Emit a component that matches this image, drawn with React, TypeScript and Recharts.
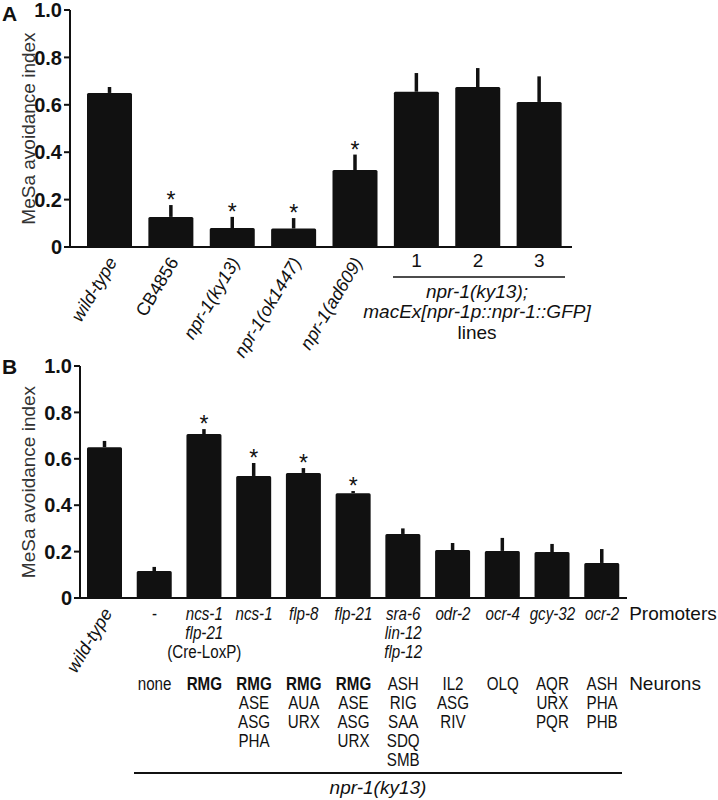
import { BarChart, Bar, XAxis, YAxis, ErrorBar, Rectangle } from 'recharts';

const FONT = '"Liberation Sans", Arial, Helvetica, sans-serif';
const INK = '#111';

// panel A: strains
const strainsA = ['wild-type', 'CB4856', 'npr-1(ky13)', 'npr-1(ok1447)', 'npr-1(ad609)', '1', '2', '3'];
const meanA = [0.65, 0.127, 0.08, 0.078, 0.325, 0.655, 0.675, 0.612];
const semA = [0.025, 0.05, 0.047, 0.044, 0.065, 0.079, 0.08, 0.108];
const sigA = [false, true, true, true, true, false, false, false];
const italicA = [true, false, true, true, true, false, false, false];
const rotatedA = [true, true, true, true, true, false, false, false];

// panel B: rescue by promoter
const promotersB = [
  [],
  ['-'],
  ['ncs-1', 'flp-21', '(Cre-LoxP)'],
  ['ncs-1'],
  ['flp-8'],
  ['flp-21'],
  ['sra-6', 'lin-12', 'flp-12'],
  ['odr-2'],
  ['ocr-4'],
  ['gcy-32'],
  ['ocr-2'],
];
const neuronsB = [
  [],
  ['none'],
  ['RMG'],
  ['RMG', 'ASE', 'ASG', 'PHA'],
  ['RMG', 'AUA', 'URX'],
  ['RMG', 'ASE', 'ASG', 'URX'],
  ['ASH', 'RIG', 'SAA', 'SDQ', 'SMB'],
  ['IL2', 'ASG', 'RIV'],
  ['OLQ'],
  ['AQR', 'URX', 'PQR'],
  ['ASH', 'PHA', 'PHB'],
];
const meanB = [0.65, 0.116, 0.707, 0.526, 0.539, 0.452, 0.276, 0.207, 0.203, 0.198, 0.151];
const semB = [0.027, 0.018, 0.021, 0.056, 0.021, 0.009, 0.024, 0.03, 0.056, 0.035, 0.06];
const sigB = [false, false, true, true, true, true, false, false, false, false, false];

const yTicks = [0, 0.2, 0.4, 0.6, 0.8, 1.0];

const dataA = meanA.map((m, i) => ({ key: 'a' + i, mean: m, sem: semA[i], err: [0, semA[i]], sig: sigA[i] }));
const dataB = meanB.map((m, i) => ({ key: 'b' + i, mean: m, sem: semB[i], err: [0, semB[i]], sig: sigB[i] }));

const txt = { fontFamily: FONT, fontSize: 19, fill: INK };

// table text in panel B is set in a condensed face
const Narrow = ({ x, y, italic, bold, children }: any) => (
  <text
    transform={`translate(${x}, ${y}) scale(0.82, 1)`}
    textAnchor="middle"
    fontStyle={italic ? 'italic' : 'normal'}
    fontWeight={bold ? 'bold' : 'normal'}
    {...txt}
    fontSize={18.5}
  >
    {children}
  </text>
);

const BarWithStar = (props: any) => {
  const { x, y, width, height, payload } = props;
  let star = null;
  if (payload.sig && payload.mean > 0) {
    const errTop = y - (payload.sem / payload.mean) * height;
    star = (
      <text x={x + width / 2} y={errTop + 3} textAnchor="middle" {...txt} fontSize={23}>
        *
      </text>
    );
  }
  return (
    <g>
      <Rectangle x={x} y={y} width={width} height={height} fill={INK} radius={1.5} />
      {star}
    </g>
  );
};

const RotLabel = ({ x, y, label, italic }: any) => {
  const ax = x + 8;
  const ay = y + 15;
  return (
    <text x={ax} y={ay} transform={`rotate(-59, ${ax}, ${ay})`} textAnchor="end" fontStyle={italic ? 'italic' : 'normal'} {...txt} fontSize={18}>
      {label}
    </text>
  );
};

const TickA = (props: any) => {
  const { x, y, index } = props;
  if (rotatedA[index]) return <RotLabel x={x} y={y} label={strainsA[index]} italic={italicA[index]} />;
  return (
    <text x={x} y={y + 20} textAnchor="middle" {...txt}>
      {strainsA[index]}
    </text>
  );
};

const TickB = (props: any) => {
  const { x, y, index } = props;
  if (index === 0) return <RotLabel x={x} y={y} label="wild-type" italic />;
  const last = index === meanB.length - 1;
  return (
    <g>
      {promotersB[index].map((p, i) => (
        <Narrow key={'p' + i} x={x} y={y + 22 + i * 19} italic={!(p.startsWith('(') || p === '-')}>
          {p}
        </Narrow>
      ))}
      {neuronsB[index].map((n, i) => (
        <Narrow key={'n' + i} x={x} y={y + 92 + i * 19} bold={n === 'RMG'}>
          {n}
        </Narrow>
      ))}
      {last && (
        <>
          <text x={x + 27} y={y + 22} {...txt}>Promoters</text>
          <text x={x + 27} y={y + 92} {...txt}>Neurons</text>
        </>
      )}
    </g>
  );
};

const yTitle = (props: any) => {
  const vb = props.viewBox;
  const cy = vb.y + vb.height / 2;
  return (
    <text x={28} y={cy} transform={`rotate(-90, 28, ${cy})`} textAnchor="middle" dominantBaseline="central" {...txt} fill="#333">
      MeSa avoidance index
    </text>
  );
};

const yAxisProps = {
  domain: [0, 1] as [number, number],
  ticks: yTicks,
  interval: 0 as const,
  tickFormatter: (v: number) => (v === 0 ? '0' : v.toFixed(1)),
  tick: { fill: INK, fontSize: 20, fontWeight: 'bold', fontFamily: FONT },
  tickSize: 6,
  tickMargin: 2,
  tickLine: { stroke: INK, strokeWidth: 2 },
  axisLine: { stroke: INK, strokeWidth: 2 },
  label: { content: yTitle },
};

export default function App() {
  return (
    <div style={{ position: 'absolute', left: 0, top: 0, width: 718, height: 800, background: '#fff' }}>
      <div style={{ position: 'absolute', left: 0, top: 0 }}>
        <BarChart width={718} height={410} data={dataA} margin={{ top: 10, right: 146, bottom: 0, left: 0 }} barSize={45}>
          <XAxis
            dataKey="key"
            height={163}
            interval={0}
            tick={<TickA />}
            tickLine={false}
            tickSize={0}
            tickMargin={0}
            padding={{ left: 9, right: 2 }}
            axisLine={{ stroke: INK, strokeWidth: 2 }}
          />
          <YAxis width={70} {...yAxisProps} />
          <Bar dataKey="mean" shape={<BarWithStar />} isAnimationActive={false}>
            <ErrorBar dataKey="err" width={0} strokeWidth={3.5} stroke={INK} direction="y" isAnimationActive={false} />
          </Bar>
        </BarChart>
      </div>
      <div style={{ position: 'absolute', left: 0, top: 356 }}>
        <BarChart width={718} height={444} data={dataB} margin={{ top: 10, right: 91, bottom: 0, left: 0 }} barSize={35}>
          <XAxis
            dataKey="key"
            height={202}
            interval={0}
            tick={<TickB />}
            tickLine={false}
            tickSize={0}
            tickMargin={0}
            axisLine={{ stroke: INK, strokeWidth: 2 }}
          />
          <YAxis width={80} {...yAxisProps} />
          <Bar dataKey="mean" shape={<BarWithStar />} isAnimationActive={false}>
            <ErrorBar dataKey="err" width={0} strokeWidth={3.5} stroke={INK} direction="y" isAnimationActive={false} />
          </Bar>
        </BarChart>
      </div>
      <svg width={718} height={800} style={{ position: 'absolute', left: 0, top: 0, pointerEvents: 'none' }}>
        <text x={2} y={21} {...txt} fontSize={21} fontWeight="bold">A</text>
        <text x={2} y={374} {...txt} fontSize={21} fontWeight="bold">B</text>
        <line x1={393} y1={277} x2={565} y2={277} stroke={INK} strokeWidth={1.5} />
        <text x={477} y={298} textAnchor="middle" fontStyle="italic" {...txt}>npr-1(ky13);</text>
        <text x={477} y={318} textAnchor="middle" fontStyle="italic" {...txt}>macEx[npr-1p::npr-1::GFP]</text>
        <text x={477} y={339} textAnchor="middle" {...txt}>lines</text>
        <line x1={134} y1={773} x2={622} y2={773} stroke={INK} strokeWidth={2} />
        <text x={378} y={794} textAnchor="middle" fontStyle="italic" {...txt}>npr-1(ky13)</text>
      </svg>
    </div>
  );
}
